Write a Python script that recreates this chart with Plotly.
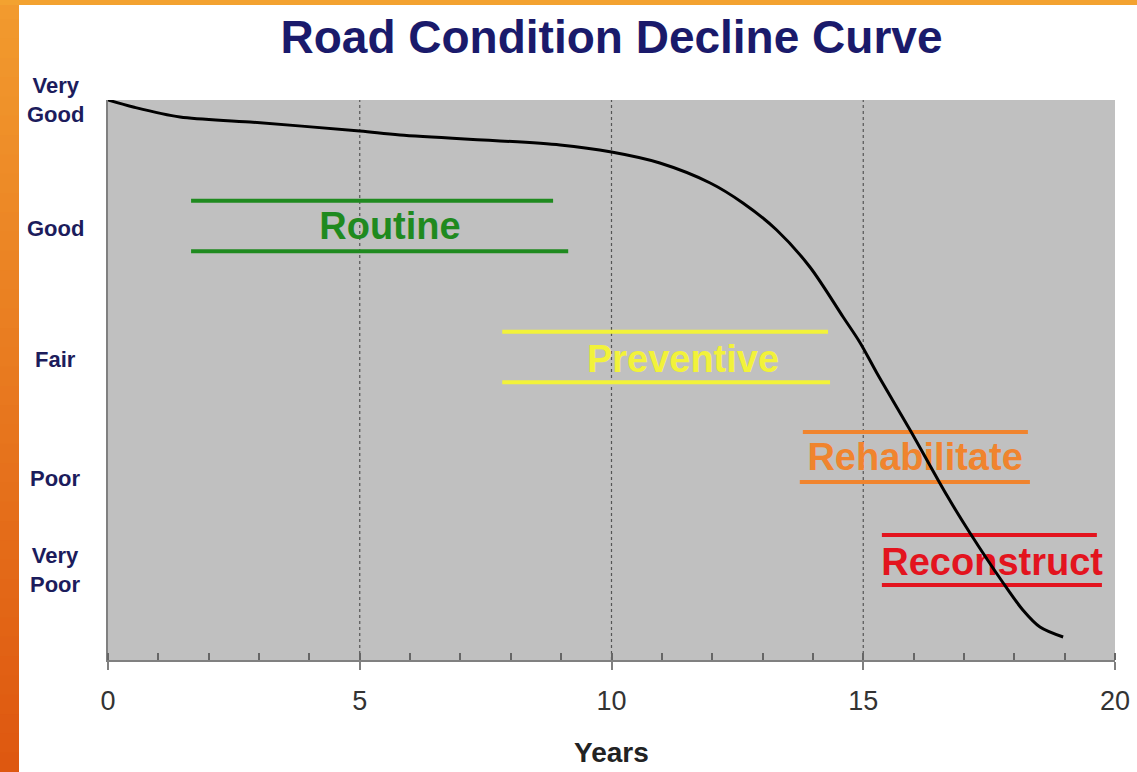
import plotly.graph_objects as go

# ---- data ----
years = [0, 0.5, 1.43, 2.82, 5, 5.8, 8.98, 10, 10.96, 11.96, 12.61, 13.28, 13.94,
         14.60, 14.94, 15.27, 15.93, 16.66, 17.12, 17.78, 18.17, 18.51, 18.97]
condition = [100, 98.75, 96.96, 96.07, 94.46, 93.75, 91.96, 90.71, 88.75, 85.18,
             81.61, 76.79, 70.18, 61.25, 56.61, 51.25, 41.07, 29.4, 22.68, 13.75, 8.93,
             5.89, 4.11]

band_names = ["Routine", "Preventive", "Rehabilitate", "Reconstruct"]
band_colors = ["#1f8a1f", "#f2f23a", "#f0842e", "#e3141e"]
band_top_x0 = [1.65, 7.83, 13.80, 15.37]
band_top_x1 = [8.84, 14.30, 18.27, 19.64]
band_bot_x0 = [1.65, 7.83, 13.74, 15.37]
band_bot_x1 = [9.14, 14.34, 18.31, 19.74]
band_top_y = [82.0, 58.6, 40.7, 22.3]
band_bot_y = [73.0, 49.6, 31.8, 13.4]
label_x = [5.60, 11.42, 16.03, 17.56]
label_y = [76.8, 53.2, 35.7, 16.8]

cond_labels = ["Very<br>Good", "Good", "Fair", "Poor", "Very<br>Poor"]
cond_y = [100, 77.1, 53.6, 32.5, 16.1]

x_ticks = [0, 5, 10, 15, 20]
grid_x = [5, 10, 15]

W, H = 1137, 772
L, R, T, B = 108, 22, 100, 112
PW, PH = W - L - R, H - T - B

def px2paper_x(p):
    return (p - L) / PW

def px2paper_y(p):
    return (H - B - p) / PH

FONT = "Liberation Sans, Arial"

fig = go.Figure()

# dotted gridlines
for gx in grid_x:
    fig.add_trace(go.Scatter(x=[gx, gx], y=[0, 100], mode="lines",
                             line=dict(color="#555555", width=1.2, dash="dot"),
                             hoverinfo="skip", showlegend=False))

# maintenance bands
for i, name in enumerate(band_names):
    c = band_colors[i]
    fig.add_trace(go.Scatter(x=[band_top_x0[i], band_top_x1[i]], y=[band_top_y[i]] * 2,
                             mode="lines", line=dict(color=c, width=4), showlegend=False))
    fig.add_trace(go.Scatter(x=[band_bot_x0[i], band_bot_x1[i]], y=[band_bot_y[i]] * 2,
                             mode="lines", line=dict(color=c, width=4), showlegend=False))
    fig.add_trace(go.Scatter(x=[label_x[i]], y=[label_y[i]], mode="text", text=[name],
                             textfont=dict(family=FONT, size=38, color=c, weight="bold"),
                             textposition="middle center", showlegend=False))

# decline curve
fig.add_trace(go.Scatter(x=years, y=condition, mode="lines",
                         line=dict(color="black", width=3, shape="spline", smoothing=0.9),
                         cliponaxis=False, showlegend=False))

annotations = []
for lab, yv in zip(cond_labels, cond_y):
    annotations.append(dict(xref="paper", yref="y", x=px2paper_x(55), y=yv, text=lab,
                            showarrow=False, xanchor="center", yanchor="middle",
                            align="center",
                            font=dict(family=FONT, size=22, color="#1c1c5c", weight="bold")))
annotations.append(dict(xref="paper", yref="paper", x=0.5, y=px2paper_y(752), text="Years",
                        showarrow=False, xanchor="center", yanchor="middle",
                        font=dict(family=FONT, size=28, color="#222222", weight="bold")))

# orange frame (left gradient strip + top strip)
shapes = []
n = 40
c_top = (242, 154, 46)
c_bot = (222, 88, 16)
for k in range(n):
    f = k / (n - 1)
    col = "rgb(%d,%d,%d)" % tuple(round(c_top[j] + (c_bot[j] - c_top[j]) * f) for j in range(3))
    y0 = H * k / n
    y1 = H * (k + 1) / n + 1
    shapes.append(dict(type="rect", xref="paper", yref="paper",
                       x0=px2paper_x(0), x1=px2paper_x(19),
                       y0=px2paper_y(y1), y1=px2paper_y(y0),
                       fillcolor=col, line=dict(width=0), layer="above"))
shapes.append(dict(type="rect", xref="paper", yref="paper",
                   x0=px2paper_x(0), x1=px2paper_x(W), y0=px2paper_y(5), y1=px2paper_y(0),
                   fillcolor="rgb(243,162,48)", line=dict(width=0), layer="above"))

fig.update_layout(
    width=W, height=H,
    margin=dict(l=L, r=R, t=T, b=B, autoexpand=False),
    paper_bgcolor="white",
    plot_bgcolor="#c0c0c0",
    title=dict(text="<b>Road Condition Decline Curve</b>", x=0.5, xref="paper",
               y=1 - 37 / H, yref="container", xanchor="center", yanchor="middle",
               font=dict(family=FONT, size=46, color="#1a1a6b")),
    annotations=annotations,
    shapes=shapes,
    showlegend=False,
)
fig.update_xaxes(range=[0, 20], tickvals=x_ticks, ticktext=[str(v) for v in x_ticks],
                 showgrid=False, zeroline=False, showline=True, linecolor="#808080",
                 linewidth=2, ticks="outside", ticklen=8, tickcolor="#808080", tickwidth=2,
                 ticklabelstandoff=8,
                 minor=dict(dtick=1, ticks="inside", ticklen=7, tickcolor="#666666",
                            tickwidth=2, showgrid=False),
                 tickfont=dict(family=FONT, size=27, color="#333333"))
fig.update_yaxes(range=[0, 100], showticklabels=False, showgrid=False, zeroline=False,
                 showline=True, linecolor="#808080", linewidth=2, ticks="")

fig.write_html("out.html", config={"displayModeBar": False},
               post_script="document.body.style.margin='0';document.body.style.overflow='hidden';")
